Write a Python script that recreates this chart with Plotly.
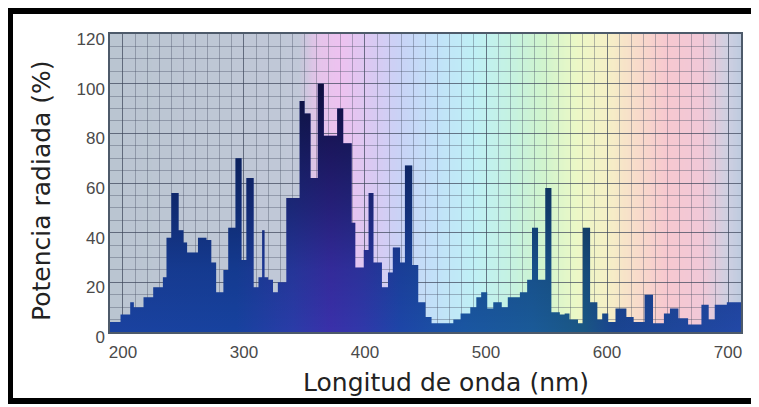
import base64, struct, zlib
import plotly.graph_objects as go

# ---- data ----
wl_start = [189, 198, 206, 209, 217, 225, 233, 236, 240, 246, 250, 253, 262, 269, 273, 277, 283, 287, 293, 298,
            302, 308, 312, 315, 317, 320, 324, 328, 335, 346, 350, 355, 361, 366, 377, 382, 389, 392, 399, 403,
            407, 414, 419, 423, 429, 433, 439, 444, 450, 455, 473, 479, 487, 492, 496, 501, 506, 513, 518, 528,
            534, 538, 543, 549, 554, 561, 565, 569, 576, 580, 586, 592, 596, 601, 607, 616, 622, 631, 638, 647,
            652, 659, 667, 678, 684, 689, 699]
wl_end = 711
power = [4, 7, 12, 10, 14, 18, 22, 38, 56, 41, 36, 32, 38, 37, 28, 16, 25, 42, 70, 29,
         62, 18, 22, 41, 22, 21, 16, 20, 54, 93, 88, 62, 100, 79, 90, 76, 44, 26, 33, 56,
         28, 18, 24, 34, 28, 67, 27, 12, 6, 3.5, 5, 7.5, 10, 14, 16, 9.5, 12, 10, 14, 16,
         21, 42, 21, 58, 8, 7, 7.5, 5, 3.5, 42, 12, 5, 7.5, 4, 9.5, 6, 4, 15, 3.5, 7.5,
         9.5, 5.5, 3, 11, 5, 11, 12]
x_ticks = [200, 300, 400, 500, 600, 700]
y_ticks = [0, 20, 40, 60, 80, 100, 120]

X_MIN, X_MAX = 189.3, 710.7
Y_MIN, Y_MAX = 0, 120

# ---- spectrum background colours (nm -> colour) ----
bg_stops = [(189, "#bac5d1"), (345, "#c1c8d8"), (360, "#e4c4ea"), (380, "#eec2f0"), (405, "#dac9f2"),
            (430, "#c9d3f6"), (455, "#c2e0f8"), (490, "#bff0f6"), (520, "#c5f2e2"), (545, "#cff4cf"),
            (575, "#ecf8c6"), (600, "#f5f0c6"), (625, "#f8dcca"), (650, "#f7c8d0"), (680, "#f0c8d8"),
            (700, "#cfd0e2"), (711, "#bfcbdf")]


def hex2rgb(h):
    h = h.lstrip("#")
    return tuple(int(h[i:i + 2], 16) for i in (0, 2, 4))


def interp(nm):
    for (a, ca), (b, cb) in zip(bg_stops[:-1], bg_stops[1:]):
        if a <= nm <= b:
            t = (nm - a) / (b - a)
            ra, rb = hex2rgb(ca), hex2rgb(cb)
            return tuple(int(round(ra[i] + (rb[i] - ra[i]) * t)) for i in range(3))
    return hex2rgb(bg_stops[-1][1])


def png_uri(width):
    row = b"\x00" + b"".join(bytes(interp(X_MIN + (X_MAX - X_MIN) * i / (width - 1))) for i in range(width))
    raw = row * 2

    def chunk(tag, data):
        return struct.pack(">I", len(data)) + tag + data + struct.pack(">I", zlib.crc32(tag + data) & 0xffffffff)
    png = b"\x89PNG\r\n\x1a\n" + chunk(b"IHDR", struct.pack(">IIBBBBB", width, 2, 8, 2, 0, 0, 0)) \
        + chunk(b"IDAT", zlib.compress(raw, 9)) + chunk(b"IEND", b"")
    return "data:image/png;base64," + base64.b64encode(png).decode()


xs = wl_start + [wl_end]
ys = power + [power[-1]]

fig = go.Figure()
fig.add_trace(go.Scatter(
    x=xs, y=ys, mode="lines", line=dict(width=0, shape="hv"), fill="tozeroy",
    fillgradient=dict(type="horizontal", start=X_MIN, stop=X_MAX,
                      colorscale=[[0.0, "#1a42a0"], [0.2, "#17429f"], [0.29, "#2a3ca8"], [0.35, "#3a30aa"],
                                  [0.4, "#3038aa"], [0.46, "#1d46a8"], [0.56, "#1a56a2"], [0.67, "#1a5a98"],
                                  [0.75, "#1a5784"], [0.8, "#1a4490"], [1.0, "#2248a6"]]),
    hoverinfo="skip", showlegend=False))
fig.add_trace(go.Scatter(
    x=xs, y=ys, mode="lines", line=dict(width=0, shape="hv"), fill="tozeroy",
    fillgradient=dict(type="vertical", start=0, stop=100,
                      colorscale=[[0.0, "rgba(0,0,30,0)"], [0.25, "rgba(0,0,30,0.12)"],
                                  [0.5, "rgba(0,0,30,0.35)"], [0.8, "rgba(0,0,25,0.58)"],
                                  [1.0, "rgba(0,0,20,0.72)"]]),
    hoverinfo="skip", showlegend=False))

grid_major = "rgba(60,70,90,0.55)"
grid_minor = "rgba(70,80,100,0.38)"

# the page body adds an 8 px offset, so the figure is laid out 8 px up/left
fig.update_layout(
    width=759, height=407,
    margin=dict(l=102, r=26, t=26, b=83),
    paper_bgcolor="white", plot_bgcolor="rgba(0,0,0,0)",
    images=[dict(source=png_uri(522), xref="x", yref="y", x=X_MIN, y=Y_MAX,
                 sizex=X_MAX - X_MIN, sizey=Y_MAX - Y_MIN, sizing="stretch", layer="below")],
    xaxis=dict(range=[X_MIN, X_MAX], tickvals=x_ticks, ticktext=[str(v) for v in x_ticks],
               showgrid=True, gridcolor=grid_major, gridwidth=1,
               minor=dict(dtick=10, tick0=0, showgrid=True, gridcolor=grid_minor, gridwidth=1),
               showline=True, mirror=True, linecolor="#4d5a6a", linewidth=1.5,
               ticks="", tickfont=dict(family="Liberation Sans", size=17, color="#4a4a4a"),
               ticklabelstandoff=4,
               zeroline=False, fixedrange=True),
    yaxis=dict(range=[Y_MIN, Y_MAX], tickvals=y_ticks, ticktext=[str(v) for v in y_ticks],
               showgrid=True, gridcolor=grid_major, gridwidth=1,
               minor=dict(dtick=5, tick0=0, showgrid=True, gridcolor=grid_minor, gridwidth=1),
               showline=True, mirror=True, linecolor="#4d5a6a", linewidth=1.5,
               ticks="", tickfont=dict(family="Liberation Sans", size=17, color="#4a4a4a"),
               ticklabelshift=5,
               zeroline=False, fixedrange=True),
    annotations=[
        dict(text="Longitud de onda (nm)", xref="paper", yref="paper", x=(446 - 110) / 631, y=(332 - 382) / 298,
             xanchor="center", yanchor="middle", showarrow=False,
             font=dict(family="DejaVu Sans", size=25, color="#222")),
        dict(text="Potencia radiada (%)", xref="paper", yref="paper", x=(41 - 110) / 631, y=(332 - 191) / 298,
             xanchor="center", yanchor="middle", textangle=-90, showarrow=False,
             font=dict(family="DejaVu Sans", size=25, color="#222")),
    ],
    shapes=[dict(type="rect", xref="paper", yref="paper",
                 x0=(10 - 110) / 631, x1=(755 - 110) / 631, y0=(332 - 401) / 298, y1=(332 - 11) / 298,
                 line=dict(color="black", width=6), fillcolor="rgba(0,0,0,0)", layer="above")],
)

fig.write_html("out.html")
